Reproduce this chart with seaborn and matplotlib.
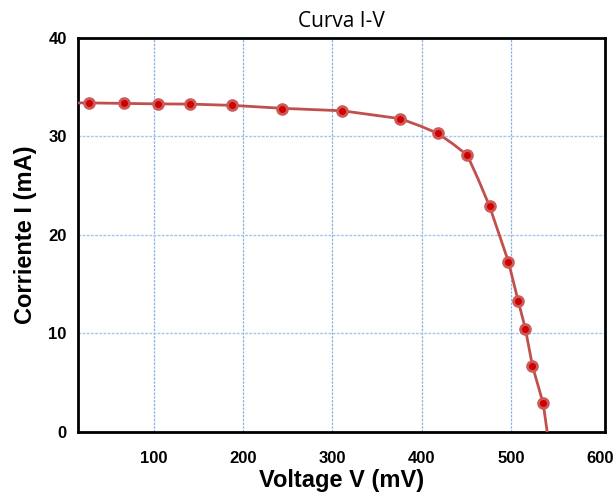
import matplotlib
matplotlib.use("Agg")
import matplotlib.pyplot as plt
import seaborn as sns
import pandas as pd

# Measured points (voltage in mV, current in mA)
voltage = [27, 67, 105, 140, 188, 244, 311, 376, 418, 451, 476, 497, 508, 516, 524, 536]
current = [33.4, 33.35, 33.25, 33.3, 33.15, 32.8, 32.6, 31.8, 30.3, 28.1, 22.9, 17.3, 13.3, 10.5, 6.7, 2.9]

# Trend line (extra points where the curve bends)
curve_v = [15, 27, 67, 105, 140, 188, 244, 311, 376, 400, 418, 434, 451, 463, 476,
           497, 508, 516, 524, 536, 540.5]
curve_i = [33.4, 33.4, 33.35, 33.3, 33.28, 33.15, 32.85, 32.6, 31.8, 31.0, 30.3, 29.3,
           28.1, 25.7, 22.9, 17.3, 13.3, 10.5, 6.7, 2.9, 0.0]

x_ticks = [100, 200, 300, 400, 500, 600]
y_ticks = [0, 10, 20, 30, 40]

sns.set_theme(style="white")
plt.rcParams['font.family'] = ['Liberation Sans', 'DejaVu Sans']
plt.rcParams['text.color'] = 'black'
plt.rcParams['axes.labelcolor'] = 'black'

fig = plt.figure(figsize=(6.14, 4.92), dpi=100)
ax = fig.add_axes([0.127, 0.122, 0.858, 0.801])

pts = pd.DataFrame({'V': voltage, 'I': current})
line = pd.DataFrame({'V': curve_v, 'I': curve_i})

sns.lineplot(data=line, x='V', y='I', ax=ax, color='#C0504D', linewidth=2.0,
             sort=False, estimator=None, zorder=3)
sns.scatterplot(data=pts, x='V', y='I', ax=ax, s=50, color='#D00000',
                edgecolor='#CB5A59', linewidth=2.0, zorder=4)

ax.set_xlim(15, 605)
ax.set_ylim(0, 40)
ax.set_xticks(x_ticks)
ax.set_yticks(y_ticks)

ax.grid(True, axis='x', color='#8DB3E2', linestyle=(0, (2, 1)), linewidth=0.9)
ax.grid(True, axis='y', color='#A9C6EA', linestyle=(0, (2, 1)), linewidth=1.0)
ax.set_axisbelow(True)
# no grid line at 600 (it sits right against the frame in the original)
ax.get_xgridlines()[-1].set_visible(False)

for s in ax.spines.values():
    s.set_color('black')
    s.set_linewidth(2.0)

ax.tick_params(axis='x', direction='in', length=5, width=1.2, pad=14,
               labelsize=12, colors='black')
ax.tick_params(axis='y', direction='in', length=5, width=1.2, pad=8,
               labelsize=12, colors='black')
for lab in ax.get_xticklabels() + ax.get_yticklabels():
    lab.set_fontweight('bold')

ax.set_xlabel('Voltage V (mV)', fontsize=17, fontweight='bold', labelpad=2)
ax.set_ylabel('Corriente I (mA)', fontsize=17, fontweight='bold', labelpad=8)
ax.set_title('Curva I-V', fontsize=15, color='black',
             family=['Open Sans', 'DejaVu Sans'], pad=8)

fig.savefig('out.png', dpi=100)
